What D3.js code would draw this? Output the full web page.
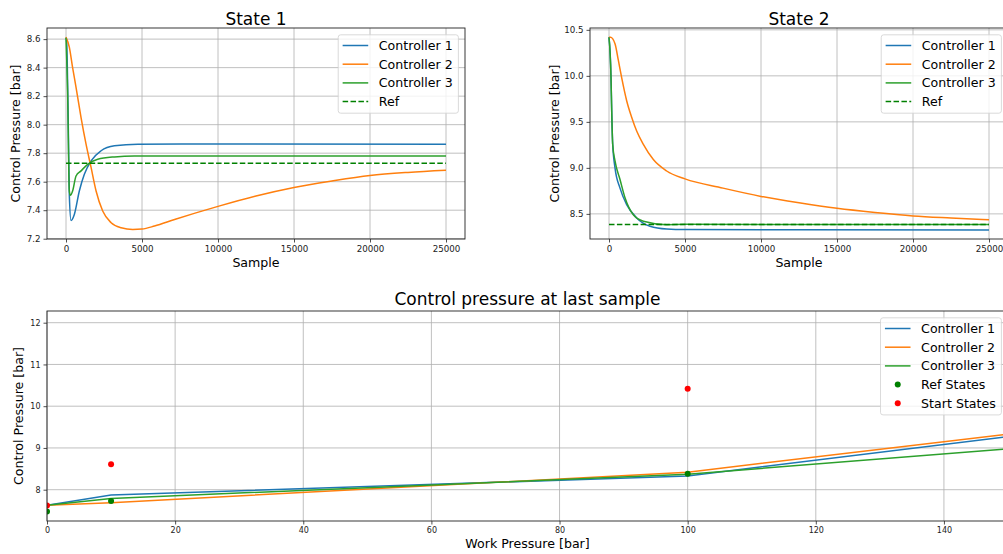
<!DOCTYPE html>
<html lang="en">
<head>
<meta charset="UTF-8" />
<title>Control pressure per controller</title>
<style>
  body { margin: 0; background: #fff; overflow: hidden; }
  svg { display: block; font-family: "DejaVu Sans", sans-serif; }
  .grid line { stroke: #b0b0b0; stroke-width: 0.8; }
  .tick text { fill: #222; }
  .tick line { stroke: #222; stroke-width: 0.8; }
</style>
</head>
<body>
<svg id="chart" width="1003" height="554"></svg>

<script src="https://d3js.org/d3.v7.min.js"></script>
<script>
// ---- data: State 1 (sample, pressure) ----
const state1Ctrl1 = [[0, 8.61], [40, 8.59], [152, 7.98], [218, 7.51], [330, 7.328], [548, 7.37], [877, 7.535],
  [1207, 7.652], [1649, 7.746], [2309, 7.817], [3187, 7.852], [4724, 7.863], [10000, 7.864], [25000, 7.863]];
const state1Ctrl2 = [[0, 8.614], [218, 8.544], [435, 8.40], [660, 8.262], [990, 8.05], [1319, 7.863],
  [1649, 7.70], [1979, 7.535], [2414, 7.394], [2968, 7.312], [3628, 7.277], [4394, 7.265], [5000, 7.268],
  [5825, 7.289], [7144, 7.335], [10000, 7.427], [12500, 7.50], [15000, 7.56], [17500, 7.605],
  [20000, 7.643], [22500, 7.665], [25000, 7.68]];
const state1Ctrl3 = [[0, 8.61], [108, 8.215], [218, 7.535], [284, 7.504], [435, 7.535], [660, 7.64],
  [990, 7.676], [1429, 7.722], [2088, 7.758], [3187, 7.774], [4500, 7.78], [25000, 7.78]];
const state1Ref = [[0, 7.73], [25000, 7.73]];

// ---- data: State 2 ----
const state2Ctrl1 = [[0, 10.42], [132, 9.98], [178, 9.62], [243, 9.256], [395, 9.0], [724, 8.78], [1162, 8.60],
  [1820, 8.456], [2700, 8.366], [3800, 8.336], [5000, 8.33], [25000, 8.325]];
const state2Ctrl2 = [[0, 10.42], [100, 10.42], [395, 10.35], [614, 10.17], [833, 9.98], [1162, 9.73],
  [1491, 9.55], [1820, 9.40], [2260, 9.256], [2917, 9.09], [3794, 8.966], [5000, 8.88], [7500, 8.78],
  [10000, 8.69], [12500, 8.62], [15000, 8.56], [17500, 8.515], [20000, 8.478], [22500, 8.455], [25000, 8.435]];
const state2Ctrl3 = [[0, 10.42], [132, 9.98], [178, 9.62], [243, 9.256], [395, 9.075], [724, 8.874],
  [1053, 8.675], [1600, 8.49], [2260, 8.42], [3800, 8.383], [5000, 8.386], [25000, 8.385]];
const state2Ref = [[0, 8.385], [25000, 8.385]];

// ---- data: last sample vs work pressure ----
const workPressure = [0, 10, 100, 150];
const ctrl1Last = [7.63, 7.87, 8.33, 9.27];
const ctrl2Last = [7.63, 7.69, 8.42, 9.33];
const ctrl3Last = [7.63, 7.79, 8.37, 8.98];
const stateWork = [0, 10, 100];
const refStates = [7.48, 7.73, 8.38];
const startStates = [7.62, 8.61, 10.42];

const sampleTicks = [0, 5000, 10000, 15000, 20000, 25000];
const state1YTicks = [7.2, 7.4, 7.6, 7.8, 8.0, 8.2, 8.4, 8.6];
const state2YTicks = [8.5, 9.0, 9.5, 10.0, 10.5];
const workTicks = [0, 20, 40, 60, 80, 100, 120, 140];
const lastYTicks = [8, 9, 10, 11, 12];

const C1 = "#1f77b4", C2 = "#ff7f0e", C3 = "#2ca02c", REF = "#008000", START = "#ff0000";

const svg = d3.select("#chart");

function drawPanel(o) {
  const x = d3.scaleLinear().domain(o.xDomain).range([o.left, o.right]);
  const y = d3.scaleLinear().domain(o.yDomain).range([o.bottom, o.top]);
  const g = svg.append("g");

  const clipId = "clip" + o.id;
  g.append("clipPath").attr("id", clipId).append("rect")
    .attr("x", o.left).attr("y", o.top)
    .attr("width", o.right - o.left).attr("height", o.bottom - o.top);

  // grid
  const grid = g.append("g").attr("class", "grid");
  grid.selectAll(".gx").data(o.xTicks).enter().append("line")
    .attr("x1", d => x(d)).attr("x2", d => x(d)).attr("y1", o.top).attr("y2", o.bottom);
  grid.selectAll(".gy").data(o.yTicks).enter().append("line")
    .attr("x1", o.left).attr("x2", o.right).attr("y1", d => y(d)).attr("y2", d => y(d));

  // axes
  const xa = g.append("g").attr("transform", `translate(0,${o.bottom})`)
    .call(d3.axisBottom(x).tickValues(o.xTicks).tickFormat(o.xFmt).tickSizeOuter(0).tickSize(3.5).tickPadding(3));
  const ya = g.append("g").attr("transform", `translate(${o.left},0)`)
    .call(d3.axisLeft(y).tickValues(o.yTicks).tickFormat(o.yFmt).tickSizeOuter(0).tickSize(3.5).tickPadding(3));
  [xa, ya].forEach(a => {
    a.select(".domain").remove();
    a.selectAll("text").style("font-size", o.tickFont + "px").style("font-family", "DejaVu Sans");
  });

  // series
  const plot = g.append("g").attr("clip-path", `url(#${clipId})`);
  o.series.forEach(s => {
    if (s.type === "dots") {
      plot.selectAll(null).data(s.data).enter().append("circle")
        .attr("cx", d => x(d[0])).attr("cy", d => y(d[1])).attr("r", 3).attr("fill", s.color);
    } else {
      plot.append("path").datum(s.data)
        .attr("fill", "none").attr("stroke", s.color).attr("stroke-width", 1.5)
        .attr("stroke-dasharray", s.dash ? "5.5,2.4" : null)
        .attr("d", d3.line().x(d => x(d[0])).y(d => y(d[1])).curve(o.curve));
    }
  });

  // spines
  g.append("rect").attr("x", o.left).attr("y", o.top)
    .attr("width", o.right - o.left).attr("height", o.bottom - o.top)
    .attr("fill", "none").attr("stroke", "#222").attr("stroke-width", 0.9);

  // titles
  const cx = (o.left + o.right) / 2;
  g.append("text").attr("x", cx).attr("y", o.titleY).attr("text-anchor", "middle")
    .style("font-size", "17px").attr("fill", "#000").text(o.title);
  g.append("text").attr("x", cx).attr("y", o.xLabelY).attr("text-anchor", "middle")
    .style("font-size", "12.6px").attr("fill", "#000").text(o.xLabel);
  g.append("text").attr("transform", `translate(${o.yLabelX},${(o.top + o.bottom) / 2}) rotate(-90)`)
    .attr("text-anchor", "middle").style("font-size", "12.6px").attr("fill", "#000").text(o.yLabel);

  // legend
  const lg = g.append("g");
  const box = lg.append("rect").attr("fill", "#fff").attr("fill-opacity", 0.8)
    .attr("stroke", "#d0d0d0").attr("stroke-width", 0.8).attr("rx", 2.5);
  const rowH = 18.7, first = 10.7;
  const boxTop = o.top + 6.8;
  let maxW = 0;
  o.series.forEach((s, i) => {
    const cy = boxTop + first + i * rowH;
    const row = lg.append("g");
    if (s.type === "dots") {
      row.append("circle").attr("cx", 17.2).attr("cy", cy).attr("r", 3).attr("fill", s.color);
    } else {
      row.append("line").attr("x1", 4.4).attr("x2", 30).attr("y1", cy).attr("y2", cy)
        .attr("stroke", s.color).attr("stroke-width", 1.5)
        .attr("stroke-dasharray", s.dash ? "5.5,2.4" : null);
    }
    const t = row.append("text").attr("x", 40.6).attr("y", cy).attr("dy", "0.36em")
      .style("font-size", "12.6px").attr("fill", "#000").text(s.name);
    maxW = Math.max(maxW, t.node().getComputedTextLength());
  });
  const boxW = 40.6 + maxW + 5.6;
  const boxLeft = o.right - 6.6 - boxW;
  lg.selectAll("g").attr("transform", `translate(${boxLeft},0)`);
  box.attr("x", boxLeft).attr("y", boxTop).attr("width", boxW)
    .attr("height", first + (o.series.length - 1) * rowH + 11.6);
}

const sampleFmt = d3.format("d");
const oneDec = d3.format(".1f");

drawPanel({
  id: "s1", left: 47, right: 465, top: 28, bottom: 239,
  xDomain: [-1250, 26250], yDomain: [7.198, 8.678],
  xTicks: sampleTicks, yTicks: state1YTicks, xFmt: sampleFmt, yFmt: oneDec, tickFont: 8.7,
  title: "State 1", titleY: 25, xLabel: "Sample", xLabelY: 267, yLabel: "Control Pressure [bar]", yLabelX: 20,
  curve: d3.curveMonotoneX,
  series: [
    { name: "Controller 1", data: state1Ctrl1, color: C1 },
    { name: "Controller 2", data: state1Ctrl2, color: C2 },
    { name: "Controller 3", data: state1Ctrl3, color: C3 },
    { name: "Ref", data: state1Ref, color: REF, dash: true }
  ]
});

drawPanel({
  id: "s2", left: 590, right: 1008, top: 28, bottom: 239,
  xDomain: [-1250, 26250], yDomain: [8.227, 10.52],
  xTicks: sampleTicks, yTicks: state2YTicks, xFmt: sampleFmt, yFmt: oneDec, tickFont: 8.7,
  title: "State 2", titleY: 25, xLabel: "Sample", xLabelY: 267, yLabel: "Control Pressure [bar]", yLabelX: 558.5,
  curve: d3.curveMonotoneX,
  series: [
    { name: "Controller 1", data: state2Ctrl1, color: C1 },
    { name: "Controller 2", data: state2Ctrl2, color: C2 },
    { name: "Controller 3", data: state2Ctrl3, color: C3 },
    { name: "Ref", data: state2Ref, color: REF, dash: true }
  ]
});

const zipWork = (xs, ys) => xs.map((v, i) => [v, ys[i]]);

drawPanel({
  id: "last", left: 47, right: 1008, top: 311, bottom: 521,
  xDomain: [0, 150], yDomain: [7.25, 12.28],
  xTicks: workTicks, yTicks: lastYTicks, xFmt: d3.format("d"), yFmt: d3.format("d"), tickFont: 8,
  title: "Control pressure at last sample", titleY: 305, xLabel: "Work Pressure [bar]", xLabelY: 548,
  yLabel: "Control Pressure [bar]", yLabelX: 22.5,
  curve: d3.curveLinear,
  series: [
    { name: "Controller 1", data: zipWork(workPressure, ctrl1Last), color: C1 },
    { name: "Controller 2", data: zipWork(workPressure, ctrl2Last), color: C2 },
    { name: "Controller 3", data: zipWork(workPressure, ctrl3Last), color: C3 },
    { name: "Ref States", data: zipWork(stateWork, refStates), color: REF, type: "dots" },
    { name: "Start States", data: zipWork(stateWork, startStates), color: START, type: "dots" }
  ]
});
</script>
</body>
</html>
